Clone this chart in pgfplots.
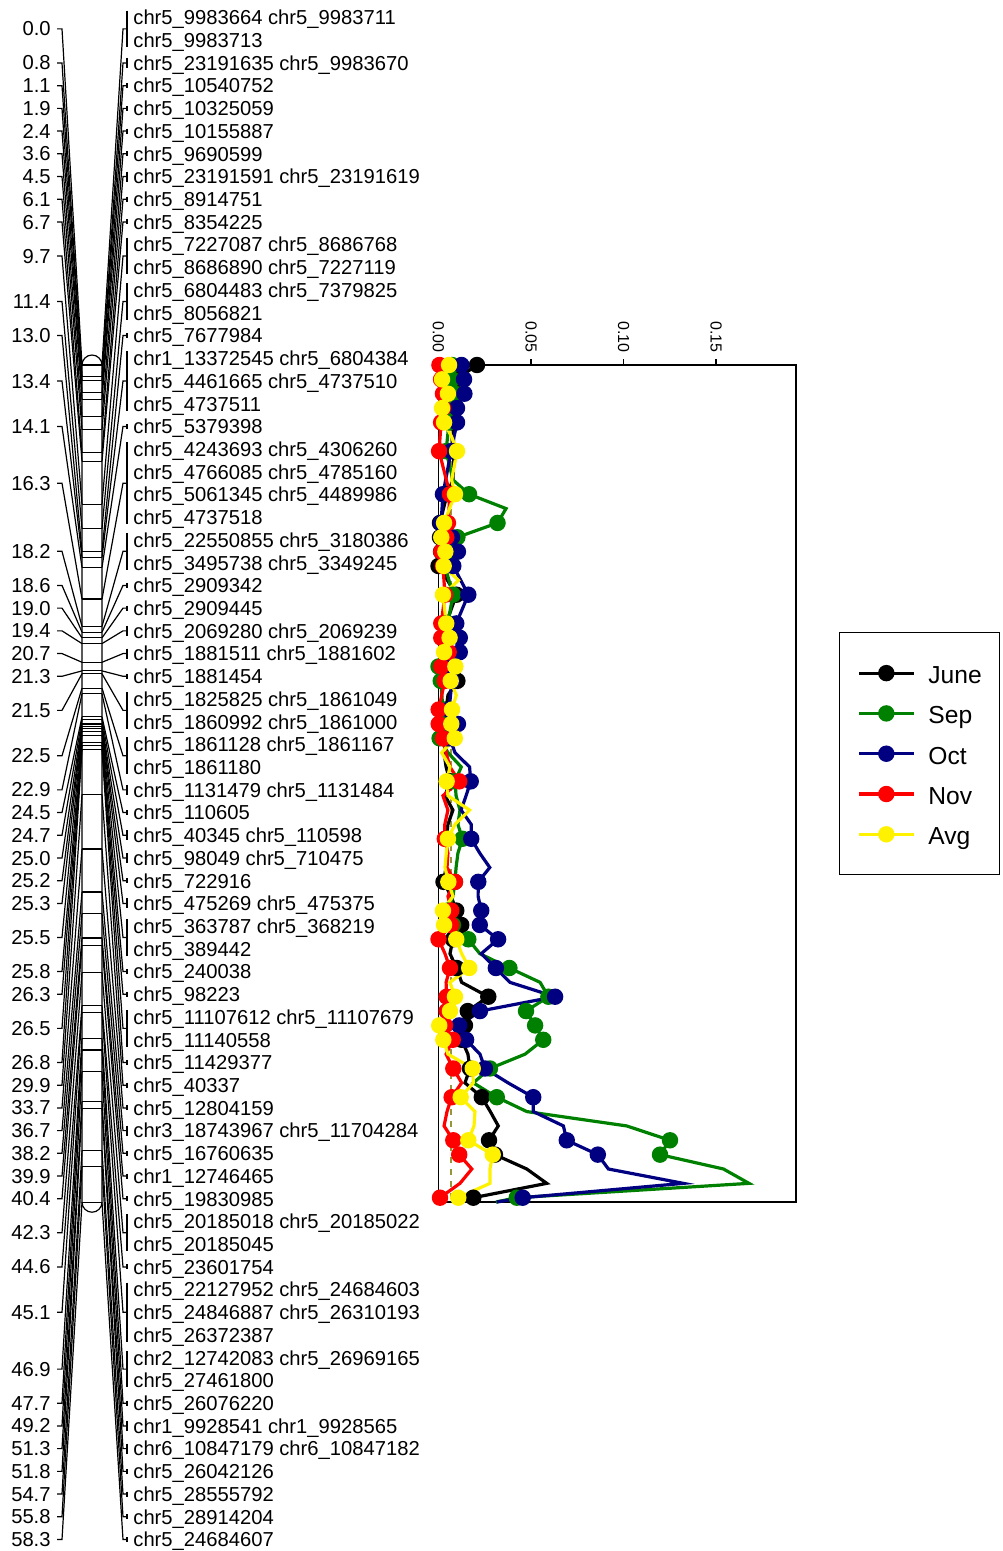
\documentclass[border=0pt]{standalone}
\usepackage{fontspec}
\setmainfont{Liberation Sans}
\usepackage{pgfplots}
\usepackage{pgfplotstable}
\pgfplotsset{compat=1.18}

\definecolor{sepgreen}{RGB}{0,128,0}
\definecolor{octnavy}{RGB}{0,0,128}
\definecolor{thrcol}{RGB}{150,150,60}

% scan values along the linkage group (cM); m=1 where a marker point is drawn
\pgfplotstableread{
k    june   sep    oct    nov    avg    m
0    0.0208 0.0073 0.0124 0.0005 0.0057 1
1    0.0095 0.0073 0.0138 0.0014 0.0019 1
2    0.0078 0.0089 0.0140 0.0024 0.0051 1
3    0.0062 0.0068 0.0100 0.0024 0.0019 1
4    0.0078 0.0057 0.0100 0.0014 0.0030 1
5    0.0080 nan    nan    nan    0.0071 0
6    0.0084 0.0041 0.0068 0.0003 0.0100 1
8    0.0078 0.0078 nan    nan    0.0071 0
9    0.0046 0.0165 0.0024 0.0062 0.0089 1
10   nan    0.0365 nan    nan    nan    0
11   0.0008 0.0319 0.0014 0.0051 0.0030 1
12   0.0008 0.0102 0.0073 0.0042 0.0015 1
13   0.0014 0.0051 0.0105 0.0015 0.0037 1
14   0.0000 0.0035 0.0080 0.0024 0.0028 1
15   nan    nan    nan    nan    0.0108 0
16   0.0097 0.0078 0.0161 0.0035 0.0024 1
18   0.0041 0.0051 0.0096 0.0015 0.0042 1
19   0.0046 0.0057 0.0115 0.0015 0.0060 1
20   0.0051 0.0046 0.0115 0.0055 0.0030 1
21   0.0062 0.0000 0.0060 0.0015 0.0091 1
22   0.0102 0.0012 0.0073 0.0034 0.0066 1
23   0.0051 nan    nan    nan    0.0096 0
24   0.0041 0.0024 0.0057 0.0001 0.0073 1
25   0.0035 0.0014 0.0105 0.0001 0.0069 1
26   0.0046 0.0006 0.0062 0.0024 0.0088 1
27   0.0030 0.0051 0.0089 0.0041 0.0017 0
28   0.0041 0.0123 0.0168 0.0062 0.0062 0
29   0.0062 0.0089 0.0174 0.0112 0.0044 1
30   0.0035 0.0095 0.0149 0.0024 0.0051 0
31   0.0078 0.0116 0.0122 0.0051 0.0168 0
32   0.0051 0.0105 0.0177 0.0034 0.0089 0
33   0.0042 0.0129 0.0177 0.0034 0.0051 1
34   0.0046 0.0105 0.0223 0.0051 0.0042 0
35   0.0041 0.0095 0.0277 0.0046 0.0035 0
36   0.0027 0.0089 0.0215 0.0089 0.0053 1
37   0.0068 0.0078 0.0214 0.0051 0.0078 0
38   0.0096 0.0051 0.0231 0.0069 0.0024 1
39   0.0123 0.0078 0.0223 0.0069 0.0030 1
40   0.0078 0.0161 0.0322 0.0000 0.0096 1
41   0.0062 0.0223 0.0231 0.0035 0.0125 0
42   0.0098 0.0383 0.0310 0.0062 0.0166 1
43   0.0125 0.0549 0.0386 0.0041 0.0062 0
44   0.0269 0.0594 0.0630 0.0044 0.0089 1
45   0.0158 0.0473 0.0224 0.0044 0.0062 1
46   0.0143 0.0522 0.0112 0.0035 0.0004 1
47   0.0125 0.0566 0.0149 0.0077 0.0026 1
48   0.0159 0.0468 0.0224 0.0041 0.0051 0
49   0.0170 0.0278 0.0251 0.0080 0.0185 1
50   0.0143 0.0188 0.0376 0.0125 0.0188 0
51   0.0234 0.0315 0.0512 0.0071 0.0120 1
52   0.0280 0.0477 0.0512 0.0046 0.0197 0
53   0.0323 0.1017 0.0675 0.0030 0.0192 0
54   0.0273 0.1251 0.0693 0.0080 0.0161 1
55   0.0305 0.1197 0.0861 0.0112 0.0293 1
56   0.0477 0.1540 0.0918 0.0180 0.0278 0
57   0.0585 0.1678 0.1323 0.0116 0.0278 0
58   0.0188 0.0423 0.0455 0.0008 0.0107 1
58.3 nan    0.0310 0.0315 nan    nan    0
}\scan

% one marker group: cM, first label row, last label row, bracket half-height
\newcommand\mkr[4]{%
  \draw[thin line] (axis cs:82,{cy(#1)}) -- (axis cs:102,{cy(#1)});
  \draw[thin line] (axis cs:57,{ry((#2+#3)/2)}) -- (axis cs:62,{ry((#2+#3)/2)}) -- (axis cs:82,{cy(#1)});
  \node[lab,anchor=east] at (axis cs:51,{ry((#2+#3)/2)}) {#1};
  \draw[thin line] (axis cs:102,{cy(#1)}) -- (axis cs:123,{ry((#2+#3)/2)}) -- (axis cs:127,{ry((#2+#3)/2)});
  \draw[thin line] (axis cs:127,{ry(#2)-#4}) -- (axis cs:127,{ry(#3)+#4});
}
\newcommand\nm[2]{\node[lab,anchor=west] at (axis cs:133,{ry(#1)}) {#2};}

\begin{document}
\begin{tikzpicture}[
  declare function={ry(\r)=17.5+22.716*(\r-1); cy(\c)=365+14.36*\c;},
  lab/.style={font=\fontsize{10.1}{12}\selectfont, inner sep=0pt, text depth=0pt},
  thin line/.style={line width=0.6pt}]
\useasboundingbox (0pt,0pt) rectangle (501pt,-775.5pt);

% ---------------- linkage map ----------------
\begin{axis}[at={(0pt,0pt)}, anchor=north west, scale only axis,
  width=501pt, height=775.5pt, xmin=0, xmax=1002, ymin=0, ymax=1551,
  y dir=reverse, hide axis, clip=false]
\draw[thin line] (axis cs:82,{cy(0)}) arc[start angle=180,end angle=0,radius=5pt]
  -- (axis cs:102,{cy(58.3)}) arc[start angle=0,end angle=-180,radius=5pt] -- cycle;
\mkr{0.0}{1}{2}{7}
\mkr{0.8}{3}{3}{5}
\mkr{1.1}{4}{4}{2.5}
\mkr{1.9}{5}{5}{2.5}
\mkr{2.4}{6}{6}{2.5}
\mkr{3.6}{7}{7}{2.5}
\mkr{4.5}{8}{8}{5}
\mkr{6.1}{9}{9}{2.5}
\mkr{6.7}{10}{10}{2.5}
\mkr{9.7}{11}{12}{7}
\mkr{11.4}{13}{14}{7}
\mkr{13.0}{15}{15}{2.5}
\mkr{13.4}{16}{18}{7}
\mkr{14.1}{19}{19}{2.5}
\mkr{16.3}{20}{23}{7}
\mkr{18.2}{24}{25}{7}
\mkr{18.6}{26}{26}{2.5}
\mkr{19.0}{27}{27}{2.5}
\mkr{19.4}{28}{28}{5}
\mkr{20.7}{29}{29}{5}
\mkr{21.3}{30}{30}{2.5}
\mkr{21.5}{31}{32}{7}
\mkr{22.5}{33}{34}{7}
\mkr{22.9}{35}{35}{5}
\mkr{24.5}{36}{36}{2.5}
\mkr{24.7}{37}{37}{5}
\mkr{25.0}{38}{38}{5}
\mkr{25.2}{39}{39}{2.5}
\mkr{25.3}{40}{40}{5}
\mkr{25.5}{41}{42}{7}
\mkr{25.8}{43}{43}{2.5}
\mkr{26.3}{44}{44}{2.5}
\mkr{26.5}{45}{46}{7}
\mkr{26.8}{47}{47}{2.5}
\mkr{29.9}{48}{48}{2.5}
\mkr{33.7}{49}{49}{2.5}
\mkr{36.7}{50}{50}{5}
\mkr{38.2}{51}{51}{2.5}
\mkr{39.9}{52}{52}{2.5}
\mkr{40.4}{53}{53}{2.5}
\mkr{42.3}{54}{55}{7}
\mkr{44.6}{56}{56}{2.5}
\mkr{45.1}{57}{59}{7}
\mkr{46.9}{60}{61}{7}
\mkr{47.7}{62}{62}{2.5}
\mkr{49.2}{63}{63}{5}
\mkr{51.3}{64}{64}{5}
\mkr{51.8}{65}{65}{2.5}
\mkr{54.7}{66}{66}{2.5}
\mkr{55.8}{67}{67}{2.5}
\mkr{58.3}{68}{68}{2.5}
\nm{1}{chr5\_9983664 chr5\_9983711}
\nm{2}{chr5\_9983713}
\nm{3}{chr5\_23191635 chr5\_9983670}
\nm{4}{chr5\_10540752}
\nm{5}{chr5\_10325059}
\nm{6}{chr5\_10155887}
\nm{7}{chr5\_9690599}
\nm{8}{chr5\_23191591 chr5\_23191619}
\nm{9}{chr5\_8914751}
\nm{10}{chr5\_8354225}
\nm{11}{chr5\_7227087 chr5\_8686768}
\nm{12}{chr5\_8686890 chr5\_7227119}
\nm{13}{chr5\_6804483 chr5\_7379825}
\nm{14}{chr5\_8056821}
\nm{15}{chr5\_7677984}
\nm{16}{chr1\_13372545 chr5\_6804384}
\nm{17}{chr5\_4461665 chr5\_4737510}
\nm{18}{chr5\_4737511}
\nm{19}{chr5\_5379398}
\nm{20}{chr5\_4243693 chr5\_4306260}
\nm{21}{chr5\_4766085 chr5\_4785160}
\nm{22}{chr5\_5061345 chr5\_4489986}
\nm{23}{chr5\_4737518}
\nm{24}{chr5\_22550855 chr5\_3180386}
\nm{25}{chr5\_3495738 chr5\_3349245}
\nm{26}{chr5\_2909342}
\nm{27}{chr5\_2909445}
\nm{28}{chr5\_2069280 chr5\_2069239}
\nm{29}{chr5\_1881511 chr5\_1881602}
\nm{30}{chr5\_1881454}
\nm{31}{chr5\_1825825 chr5\_1861049}
\nm{32}{chr5\_1860992 chr5\_1861000}
\nm{33}{chr5\_1861128 chr5\_1861167}
\nm{34}{chr5\_1861180}
\nm{35}{chr5\_1131479 chr5\_1131484}
\nm{36}{chr5\_110605}
\nm{37}{chr5\_40345 chr5\_110598}
\nm{38}{chr5\_98049 chr5\_710475}
\nm{39}{chr5\_722916}
\nm{40}{chr5\_475269 chr5\_475375}
\nm{41}{chr5\_363787 chr5\_368219}
\nm{42}{chr5\_389442}
\nm{43}{chr5\_240038}
\nm{44}{chr5\_98223}
\nm{45}{chr5\_11107612 chr5\_11107679}
\nm{46}{chr5\_11140558}
\nm{47}{chr5\_11429377}
\nm{48}{chr5\_40337}
\nm{49}{chr5\_12804159}
\nm{50}{chr3\_18743967 chr5\_11704284}
\nm{51}{chr5\_16760635}
\nm{52}{chr1\_12746465}
\nm{53}{chr5\_19830985}
\nm{54}{chr5\_20185018 chr5\_20185022}
\nm{55}{chr5\_20185045}
\nm{56}{chr5\_23601754}
\nm{57}{chr5\_22127952 chr5\_24684603}
\nm{58}{chr5\_24846887 chr5\_26310193}
\nm{59}{chr5\_26372387}
\nm{60}{chr2\_12742083 chr5\_26969165}
\nm{61}{chr5\_27461800}
\nm{62}{chr5\_26076220}
\nm{63}{chr1\_9928541 chr1\_9928565}
\nm{64}{chr6\_10847179 chr6\_10847182}
\nm{65}{chr5\_26042126}
\nm{66}{chr5\_28555792}
\nm{67}{chr5\_28914204}
\nm{68}{chr5\_24684607}
\end{axis}

% ---------------- scan profile ----------------
\begin{axis}[at={(219.25pt,-182.5pt)}, anchor=north west, scale only axis,
  width=178.75pt, height=418.5pt,
  xmin=0, xmax=0.1932, ymin=0, ymax=58.3, y dir=reverse,
  axis line style={line width=0.6pt},
  xtick={0,0.05,0.1,0.15}, xticklabels={0.00,0.05,0.10,0.15},
  xtick pos=right, xticklabel pos=right, ytick=\empty,
  tick align=outside, major tick length=3pt,
  tick style={line width=0.6pt, black},
  xticklabel style={font=\fontsize{8}{9}\selectfont, rotate=-90, anchor=east, inner sep=3pt},
  clip=false,
  series/.style={#1, line width=1.6pt, mark=*, mark size=3.3pt, mark options={draw=none, fill=#1}},
  legend image code/.code={%
    \draw[mark repeat=2, mark phase=2, #1] plot coordinates {(0pt,0pt) (13.75pt,0pt) (27.5pt,0pt)};
    \path (34pt,0pt);},
  legend style={at={(1.1203,0.681)}, anchor=north west, draw=black, line width=0.6pt,
    font=\fontsize{12.3}{15}\selectfont, inner xsep=8.8pt, inner ysep=14.5pt, row sep=8.65pt,
    nodes={inner sep=0pt, text height=11pt, text depth=0.5pt}},
  legend cell align=left]
\addplot[thrcol, dashed, line width=1pt, forget plot] coordinates {(0.0066,0) (0.0066,58.3)};
\addlegendimage{series=black}
\addlegendimage{series=sepgreen}
\addlegendimage{series=octnavy}
\addlegendimage{series=red}
\addlegendimage{series=yellow}
\addplot[series=black, mark=none, forget plot] table[x=june, y=k] {\scan};
\addplot[series=black, only marks, forget plot] table[x=june, y=k, restrict expr to domain={\thisrow{m}}{1:1}] {\scan};
\addplot[series=sepgreen, mark=none, forget plot] table[x=sep, y=k] {\scan};
\addplot[series=sepgreen, only marks, forget plot] table[x=sep, y=k, restrict expr to domain={\thisrow{m}}{1:1}] {\scan};
\addplot[series=octnavy, mark=none, forget plot] table[x=oct, y=k] {\scan};
\addplot[series=octnavy, only marks, forget plot] table[x=oct, y=k, restrict expr to domain={\thisrow{m}}{1:1}] {\scan};
\addplot[series=red, mark=none, forget plot] table[x=nov, y=k] {\scan};
\addplot[series=red, only marks, forget plot] table[x=nov, y=k, restrict expr to domain={\thisrow{m}}{1:1}] {\scan};
\addplot[series=yellow, mark=none, forget plot] table[x=avg, y=k] {\scan};
\addplot[series=yellow, only marks, forget plot] table[x=avg, y=k, restrict expr to domain={\thisrow{m}}{1:1}] {\scan};
\legend{June,Sep,Oct,Nov,Avg}
\end{axis}
\end{tikzpicture}
\end{document}
